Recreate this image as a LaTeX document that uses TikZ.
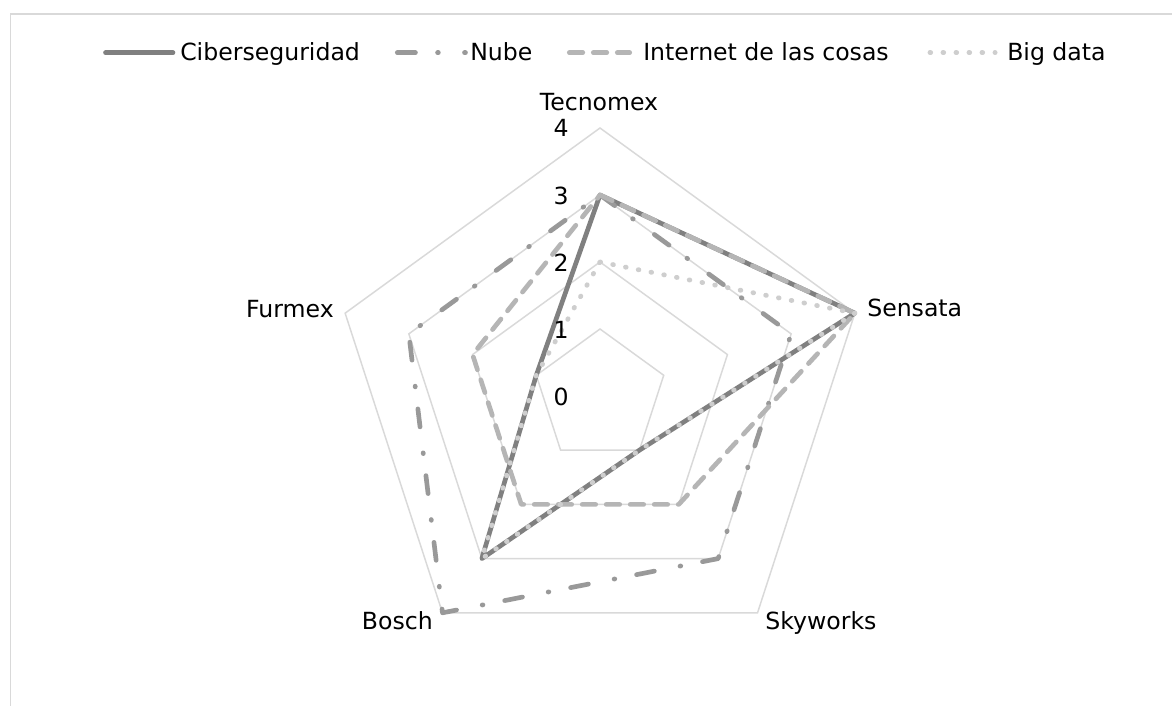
\documentclass[tikz,border=0pt]{standalone}
\usepackage{fontspec}
\setmainfont{DejaVu Sans}
\definecolor{gridc}{HTML}{D9D9D9}
\definecolor{cA}{HTML}{808080}
\definecolor{cB}{HTML}{999999}
\definecolor{cC}{HTML}{B5B5B5}
\definecolor{cD}{HTML}{CECECE}
\begin{document}
\begin{tikzpicture}[x=0.75pt,y=0.75pt,
  font=\fontsize{17.7}{21}\selectfont,
  ringline/.style={draw=gridc, line width=1.1pt, line join=miter},
  framel/.style={draw=gridc, line width=1.1pt},
  serA/.style={draw=cA, line width=3.5pt, line cap=round, line join=round},
  serB/.style={draw=cB, line width=3.5pt, line cap=round, line join=round, dash pattern=on 13.6pt off 16.6pt on 0.6pt off 19.6pt},
  serC/.style={draw=cC, line width=3.5pt, line cap=round, line join=round, dash pattern=on 10.1pt off 7.9pt},
  serD/.style={draw=cD, line width=3.6pt, line cap=round, line join=round, dash pattern=on 0.5pt off 9.25pt},
  lbl/.style={inner sep=0pt, text=black}
]
\useasboundingbox (0,0) rectangle (1172,706);
\fill[white] (0,0) rectangle (1172,706);
% frame
\coordinate (fb) at (10.5,0);
\coordinate (ftl) at (10.5,692);
\coordinate (ftr) at (1172,692);
\draw[framel] (fb) -- (ftl) -- (ftr);
% ring coordinates
\foreach \k in {1,...,4}{
  \foreach \i in {1,...,5}{
    \coordinate (r\k-\i) at ([shift={(600,310)}]{162-72*\i}:{67*\k});
  }
}
\foreach \k in {1,...,4}{
  \draw[ringline] (r\k-1) -- (r\k-2) -- (r\k-3) -- (r\k-4) -- (r\k-5) -- cycle;
}
% data coordinates
\foreach \v [count=\i] in {3,4,1,3,1}{\coordinate (a\i) at ([shift={(600,310)}]{162-72*\i}:{67*\v});}
\foreach \v [count=\i] in {3,3,3,4,3}{\coordinate (b\i) at ([shift={(600,310)}]{162-72*\i}:{67*\v});}
\foreach \v [count=\i] in {3,4,2,2,2}{\coordinate (c\i) at ([shift={(600,310)}]{162-72*\i}:{67*\v});}
\foreach \v [count=\i] in {2,4,1,3,1}{\coordinate (d\i) at ([shift={(600,310)}]{162-72*\i}:{67*\v});}
\draw[serA] (a1) -- (a2) -- (a3) -- (a4) -- (a5) -- cycle;
\draw[serB] (b1) -- (b2) -- (b3) -- (b4) -- (b5) -- cycle;
\draw[serC] (c1) -- (c2) -- (c3) -- (c4) -- (c5) -- cycle;
\draw[serD] (d1) -- (d2) -- (d3) -- (d4) -- (d5) -- cycle;
% axis values
\node[lbl, anchor=east] (v4) at (569,578) {4};
\node[lbl, anchor=east] (v3) at (569,510) {3};
\node[lbl, anchor=east] (v2) at (569,443) {2};
\node[lbl, anchor=east] (v1) at (569,376) {1};
\node[lbl, anchor=east] (v0) at (569,309) {0};
% categories
\node[lbl, anchor=base] (tT) at (599,595) {Tecnomex};
\node[lbl, anchor=base west] (tS) at (867,389) {Sensata};
\node[lbl, anchor=base west] (tK) at (765,76) {Skyworks};
\node[lbl, anchor=base east] (tB) at (433,76) {Bosch};
\node[lbl, anchor=base east] (tF) at (334,388) {Furmex};
% legend
\coordinate (la0) at (105.5,653.3); \coordinate (la1) at (173,653.3);
\draw[serA] (la0) -- (la1);
\node[lbl, anchor=base west] (lta) at (180,645) {Ciberseguridad};
\coordinate (lb0) at (397.3,653.3); \coordinate (lb1) at (465.5,653.3);
\draw[serB] (lb0) -- (lb1);
\node[lbl, anchor=base west] (ltb) at (470,645) {Nube};
\coordinate (lc0) at (569.3,653.3); \coordinate (lc1) at (629.7,653.3);
\draw[serC] (lc0) -- (lc1);
\node[lbl, anchor=base west] (ltc) at (643,645) {Internet de las cosas};
\coordinate (ld0) at (930,653.3); \coordinate (ld1) at (995.1,653.3);
\draw[serD] (ld0) -- (ld1);
\node[lbl, anchor=base west] (ltd) at (1007,645) {Big data};
\end{tikzpicture}
\end{document}
